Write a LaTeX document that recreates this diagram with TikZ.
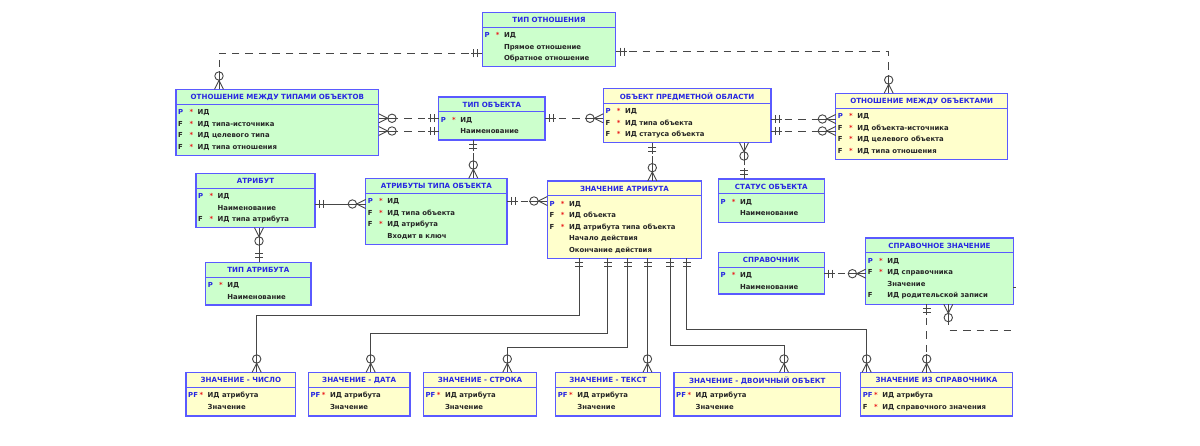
\documentclass[tikz,border=0pt]{standalone}
\usepackage{fontspec}
\setmainfont{DejaVu Sans}
\usetikzlibrary{calc}
\definecolor{entgreen}{RGB}{204,255,204}
\definecolor{entyellow}{RGB}{255,255,204}
\definecolor{entborder}{RGB}{90,90,255}
\definecolor{hdrblue}{RGB}{40,40,225}
\definecolor{keyblue}{RGB}{40,40,225}
\definecolor{starred}{RGB}{235,30,30}
\definecolor{relgray}{RGB}{70,70,70}
\tikzset{
  entbox/.style={draw=entborder, line width=1.1pt, inner sep=0pt, outer sep=0pt, anchor=north west},
  hdr/.style={font=\fontsize{7.1}{8}\selectfont\bfseries, text=hdrblue, inner sep=0pt},
  rowtxt/.style={font=\fontsize{6.9}{8}\selectfont\bfseries, text=black!85, inner sep=0pt, anchor=west, text height=5pt, text depth=0pt},
  rel/.style={draw=relgray, line width=0.9pt},
  reldash/.style={rel, dash pattern=on 7.5pt off 6pt},
}
\newcommand\entity[7]{%
  \node[entbox, fill=#6, minimum width={(#4-#2)*1pt}, minimum height={(#5-#3)*1pt}] (#1) at (#2,#3) {};
  \draw[draw=entborder, line width=1.1pt] ($(#1.north west)+(0,14.8)$) -- ($(#1.north east)+(0,14.8)$);
  \node[hdr] (#1-title) at ($(#1.north)+(0,8)$) {#7};
}
\newcommand\erow[5]{%
  \node[rowtxt] (#1-k#2) at ($(#1.north west)+(2,{22.8+11.55*(#2-1)})$) {#3};
  \node[rowtxt, text=starred] (#1-s#2) at ($(#1.north west)+(13.3,{22.8+11.55*(#2-1)})$) {#4};
  \node[rowtxt] (#1-r#2) at ($(#1.north west)+(21.5,{22.8+11.55*(#2-1)})$) {#5};
}
\newcommand\KP{\textcolor{keyblue}{P}}
\newcommand\KF{F}
\newcommand\KPF{\textcolor{keyblue}{PF}}
\newcommand\one[2]{%
  \begin{scope}[shift={#1}, rotate=#2]
    \draw[rel] (0,0) -- (11,0);
    \draw[rel] (4.5,-4) -- (4.5,4) (8.5,-4) -- (8.5,4);
  \end{scope}}
\newcommand\zmany[2]{%
  \begin{scope}[shift={#1}, rotate=#2]
    \draw[rel] (0,0) -- (18,0);
    \draw[rel] (0,-4.5) -- (9,0) -- (0,4.5);
    \draw[rel] (13.3,0) circle[radius=4.2];
  \end{scope}}
\begin{document}
\begin{tikzpicture}[x=1pt, y=-1pt]
\useasboundingbox[fill=white] (0,0) rectangle (1200,446);

% ---------- entities ----------
\entity{tipotn}{482.3}{12.3}{615.7}{66.7}{entgreen}{ТИП ОТНОШЕНИЯ}
\erow{tipotn}{1}{\KP}{*}{ИД}
\erow{tipotn}{2}{}{}{Прямое отношение}
\erow{tipotn}{3}{}{}{Обратное отношение}

\entity{otnmt}{176}{89.3}{378.7}{155.7}{entgreen}{ОТНОШЕНИЕ МЕЖДУ ТИПАМИ ОБЪЕКТОВ}
\erow{otnmt}{1}{\KP}{*}{ИД}
\erow{otnmt}{2}{\KF}{*}{ИД типа-источника}
\erow{otnmt}{3}{\KF}{*}{ИД целевого типа}
\erow{otnmt}{4}{\KF}{*}{ИД типа отношения}

\entity{tipobj}{438.7}{97}{545}{140}{entgreen}{ТИП ОБЪЕКТА}
\erow{tipobj}{1}{\KP}{*}{ИД}
\erow{tipobj}{2}{}{}{Наименование}

\entity{objekt}{603.3}{88.3}{771}{142.7}{entyellow}{ОБЪЕКТ ПРЕДМЕТНОЙ ОБЛАСТИ}
\erow{objekt}{1}{\KP}{*}{ИД}
\erow{objekt}{2}{\KF}{*}{ИД типа объекта}
\erow{objekt}{3}{\KF}{*}{ИД статуса объекта}

\entity{otnmo}{835.7}{93.3}{1007.7}{159.3}{entyellow}{ОТНОШЕНИЕ МЕЖДУ ОБЪЕКТАМИ}
\erow{otnmo}{1}{\KP}{*}{ИД}
\erow{otnmo}{2}{\KF}{*}{ИД объекта-источника}
\erow{otnmo}{3}{\KF}{*}{ИД целевого объекта}
\erow{otnmo}{4}{\KF}{*}{ИД типа отношения}

\entity{status}{718.3}{179}{824.3}{222.3}{entgreen}{СТАТУС ОБЪЕКТА}
\erow{status}{1}{\KP}{*}{ИД}
\erow{status}{2}{}{}{Наименование}

\entity{atribut}{196}{173.3}{315}{227.7}{entgreen}{АТРИБУТ}
\erow{atribut}{1}{\KP}{*}{ИД}
\erow{atribut}{2}{}{}{Наименование}
\erow{atribut}{3}{\KF}{*}{ИД типа атрибута}

\entity{atrtipa}{365.7}{178.3}{507}{244.3}{entgreen}{АТРИБУТЫ ТИПА ОБЪЕКТА}
\erow{atrtipa}{1}{\KP}{*}{ИД}
\erow{atrtipa}{2}{\KF}{*}{ИД типа объекта}
\erow{atrtipa}{3}{\KF}{*}{ИД атрибута}
\erow{atrtipa}{4}{}{}{Входит в ключ}

\entity{tipatr}{205.7}{262.3}{311}{305}{entgreen}{ТИП АТРИБУТА}
\erow{tipatr}{1}{\KP}{*}{ИД}
\erow{tipatr}{2}{}{}{Наименование}

\entity{znachatr}{547.3}{181}{701.7}{258.3}{entyellow}{ЗНАЧЕНИЕ АТРИБУТА}
\erow{znachatr}{1}{\KP}{*}{ИД}
\erow{znachatr}{2}{\KF}{*}{ИД объекта}
\erow{znachatr}{3}{\KF}{*}{ИД атрибута типа объекта}
\erow{znachatr}{4}{}{}{Начало действия}
\erow{znachatr}{5}{}{}{Окончание действия}

\entity{sprav}{718.3}{252.3}{824.3}{294}{entgreen}{СПРАВОЧНИК}
\erow{sprav}{1}{\KP}{*}{ИД}
\erow{sprav}{2}{}{}{Наименование}

\entity{sprzn}{865.7}{238}{1013.3}{304.3}{entgreen}{СПРАВОЧНОЕ ЗНАЧЕНИЕ}
\erow{sprzn}{1}{\KP}{*}{ИД}
\erow{sprzn}{2}{\KF}{*}{ИД справочника}
\erow{sprzn}{3}{}{}{Значение}
\erow{sprzn}{4}{\KF}{}{ИД родительской записи}

\entity{chislo}{186}{372.3}{295.7}{416}{entyellow}{ЗНАЧЕНИЕ - ЧИСЛО}
\erow{chislo}{1}{\KPF}{*}{ИД атрибута}
\erow{chislo}{2}{}{}{Значение}

\entity{data}{308.3}{372.3}{410}{416}{entyellow}{ЗНАЧЕНИЕ - ДАТА}
\erow{data}{1}{\KPF}{*}{ИД атрибута}
\erow{data}{2}{}{}{Значение}

\entity{stroka}{423.3}{372.3}{536.7}{416}{entyellow}{ЗНАЧЕНИЕ - СТРОКА}
\erow{stroka}{1}{\KPF}{*}{ИД атрибута}
\erow{stroka}{2}{}{}{Значение}

\entity{tekst}{555.7}{372.3}{660.3}{416}{entyellow}{ЗНАЧЕНИЕ - ТЕКСТ}
\erow{tekst}{1}{\KPF}{*}{ИД атрибута}
\erow{tekst}{2}{}{}{Значение}

\entity{dvoich}{674}{372.3}{840.7}{416}{entyellow}{ЗНАЧЕНИЕ - ДВОИЧНЫЙ ОБЪЕКТ}
\erow{dvoich}{1}{\KPF}{*}{ИД атрибута}
\erow{dvoich}{2}{}{}{Значение}

\entity{znizsprav}{860.7}{372.3}{1012.3}{416}{entyellow}{ЗНАЧЕНИЕ ИЗ СПРАВОЧНИКА}
\erow{znizsprav}{1}{\KPF}{*}{ИД атрибута}
\erow{znizsprav}{2}{\KF}{*}{ИД справочного значения}

% ---------- relationships ----------
% TIP OTNOSHENIYA -> OTNOSHENIE MEZHDU TIPAMI
\draw[reldash] (tipotn.west |- 0,53.3) -| (otnmt.north -| 219,0);
\one{(tipotn.west |- 0,53.3)}{180}
\zmany{(otnmt.north -| 219,0)}{90}
% TIP OTNOSHENIYA -> OTNOSHENIE MEZHDU OBJEKTAMI
\draw[reldash] (tipotn.east |- 0,51.7) -| (otnmo.north -| 888.7,0);
\one{(tipotn.east |- 0,51.7)}{0}
\zmany{(otnmo.north -| 888.7,0)}{90}
% TIP OBJEKTA -> OTNOSHENIE MEZHDU TIPAMI (x2)
\draw[reldash] (tipobj.west |- 0,118.3) -- (otnmt.east |- 0,118.3);
\one{(tipobj.west |- 0,118.3)}{180}
\zmany{(otnmt.east |- 0,118.3)}{0}
\draw[reldash] (tipobj.west |- 0,131) -- (otnmt.east |- 0,131);
\one{(tipobj.west |- 0,131)}{180}
\zmany{(otnmt.east |- 0,131)}{0}
% TIP OBJEKTA -> OBJEKT
\draw[reldash] (tipobj.east |- 0,118.3) -- (objekt.west |- 0,118.3);
\one{(tipobj.east |- 0,118.3)}{0}
\zmany{(objekt.west |- 0,118.3)}{180}
% TIP OBJEKTA -> ATRIBUTY TIPA OBJEKTA
\draw[reldash] (tipobj.south -| 473.3,0) -- (atrtipa.north -| 473.3,0);
\one{(tipobj.south -| 473.3,0)}{270}
\zmany{(atrtipa.north -| 473.3,0)}{90}
% OBJEKT -> ZNACHENIE ATRIBUTA
\draw[reldash] (objekt.south -| 652.3,0) -- (znachatr.north -| 652.3,0);
\one{(objekt.south -| 652.3,0)}{270}
\zmany{(znachatr.north -| 652.3,0)}{90}
% STATUS -> OBJEKT
\draw[reldash] (status.north -| 744,0) -- (objekt.south -| 744,0);
\one{(status.north -| 744,0)}{90}
\zmany{(objekt.south -| 744,0)}{270}
% OBJEKT -> OTNOSHENIE MEZHDU OBJEKTAMI (x2)
\draw[reldash] (objekt.east |- 0,119) -- (otnmo.west |- 0,119);
\one{(objekt.east |- 0,119)}{0}
\zmany{(otnmo.west |- 0,119)}{180}
\draw[reldash] (objekt.east |- 0,131) -- (otnmo.west |- 0,131);
\one{(objekt.east |- 0,131)}{0}
\zmany{(otnmo.west |- 0,131)}{180}
% ATRIBUT -> ATRIBUTY TIPA OBJEKTA
\draw[rel] (atribut.east |- 0,204) -- (atrtipa.west |- 0,204);
\one{(atribut.east |- 0,204)}{0}
\zmany{(atrtipa.west |- 0,204)}{180}
% TIP ATRIBUTA -> ATRIBUT
\draw[rel] (tipatr.north -| 259,0) -- (atribut.south -| 259,0);
\one{(tipatr.north -| 259,0)}{90}
\zmany{(atribut.south -| 259,0)}{270}
% ATRIBUTY TIPA OBJEKTA -> ZNACHENIE ATRIBUTA
\draw[reldash] (atrtipa.east |- 0,201) -- (znachatr.west |- 0,201);
\one{(atrtipa.east |- 0,201)}{0}
\zmany{(znachatr.west |- 0,201)}{180}
% SPRAVOCHNIK -> SPRAVOCHNOE ZNACHENIE
\draw[reldash] (sprav.east |- 0,273.7) -- (sprzn.west |- 0,273.7);
\one{(sprav.east |- 0,273.7)}{0}
\zmany{(sprzn.west |- 0,273.7)}{180}
% SPRAVOCHNOE ZNACHENIE self reference (cut at picture edge)
\coordinate (selfend) at (1016,330);
\coordinate (selfstart) at (1016,287);
\draw[reldash] (sprzn.south -| 948.3,0) |- (selfend);
\zmany{(sprzn.south -| 948.3,0)}{270}
\draw[rel] (sprzn.east |- 0,287) -- (selfstart);
% SPRAVOCHNOE ZNACHENIE -> ZNACHENIE IZ SPRAVOCHNIKA
\draw[reldash] (sprzn.south -| 926.7,0) -- (znizsprav.north -| 926.7,0);
\one{(sprzn.south -| 926.7,0)}{270}
\zmany{(znizsprav.north -| 926.7,0)}{90}
% ZNACHENIE ATRIBUTA -> value subtypes
\draw[rel] (znachatr.south -| 579,0) -- ++(0,57.2) -| (chislo.north -| 256.7,0);
\one{(znachatr.south -| 579,0)}{270}
\zmany{(chislo.north -| 256.7,0)}{90}
\draw[rel] (znachatr.south -| 607.7,0) -- ++(0,74.7) -| (data.north -| 370.7,0);
\one{(znachatr.south -| 607.7,0)}{270}
\zmany{(data.north -| 370.7,0)}{90}
\draw[rel] (znachatr.south -| 627.7,0) -- ++(0,89) -| (stroka.north -| 507.3,0);
\one{(znachatr.south -| 627.7,0)}{270}
\zmany{(stroka.north -| 507.3,0)}{90}
\draw[rel] (znachatr.south -| 647.5,0) -- (tekst.north -| 647.5,0);
\one{(znachatr.south -| 647.5,0)}{270}
\zmany{(tekst.north -| 647.5,0)}{90}
\draw[rel] (znachatr.south -| 670,0) -- ++(0,86.7) -| (dvoich.north -| 784,0);
\one{(znachatr.south -| 670,0)}{270}
\zmany{(dvoich.north -| 784,0)}{90}
\draw[rel] (znachatr.south -| 686.7,0) -- ++(0,71.4) -| (znizsprav.north -| 866.7,0);
\one{(znachatr.south -| 686.7,0)}{270}
\zmany{(znizsprav.north -| 866.7,0)}{90}
\end{tikzpicture}
\end{document}
